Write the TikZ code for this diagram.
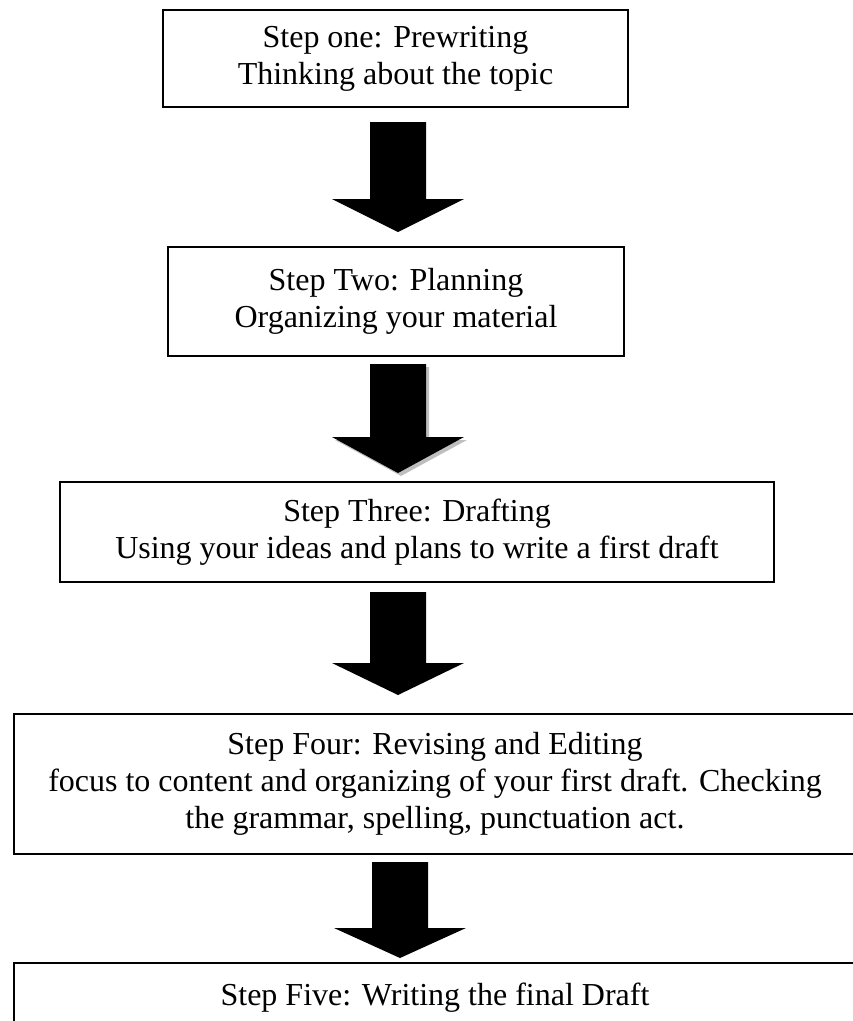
\documentclass[tikz,border=0pt]{standalone}
\usepackage{fontspec}
\setmainfont{Liberation Serif}
\begin{document}
\begin{tikzpicture}[x=1pt,y=-1pt,
  stepbox/.style={draw=black, line width=1.8pt, inner sep=0pt, align=center,
    font=\fontsize{32}{36.8}\selectfont},
  pics/blockdown/.style args={#1/#2}{code={
    \fill[pic actions] (-28,0) -- (28,0) -- (28,#1) -- (66,#1) -- (0,#2) -- (-66,#1) -- (-28,#1) -- cycle;}}
]
\useasboundingbox (0,0) rectangle (853,1021);
\node[stepbox, minimum width=465pt, minimum height=97pt] (b1) at (395.5,58.5)
  {Step one: Prewriting\\Thinking about the topic};
\node[stepbox, minimum width=456pt, minimum height=109pt] (b2) at (396,301.5)
  {Step Two: Planning\\Organizing your material};
\node[stepbox, minimum width=714pt, minimum height=100pt] (b3) at (417,532)
  {Step Three: Drafting\\Using your ideas and plans to write a first draft};
\node[stepbox, minimum width=842pt, minimum height=140pt] (b4) at (435,784)
  {Step Four: Revising and Editing\\focus to content and organizing of your first draft. Checking\\the grammar, spelling, punctuation act.};
\node[stepbox, minimum width=842pt, minimum height=70pt] (b5) at (435,998)
  {Step Five: Writing the final Draft};
\pic at (398,122) {blockdown=77/110};
\pic[fill=black!25] at (401,367) {blockdown=73/109};
\pic at (398,364) {blockdown=73/109};
\pic at (398,592) {blockdown=71/103};
\pic at (400,862) {blockdown=66/96};
\end{tikzpicture}
\end{document}
